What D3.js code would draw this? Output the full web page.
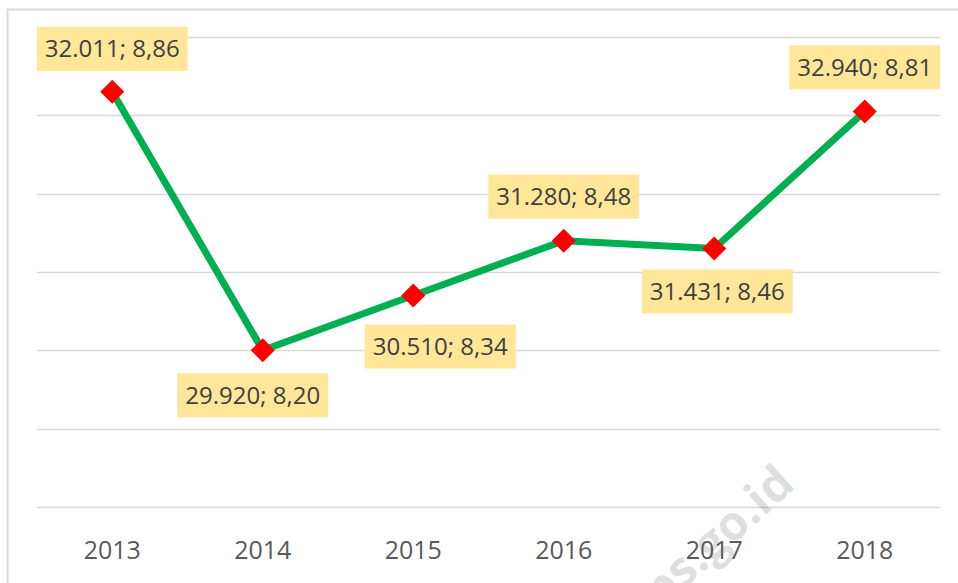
<!DOCTYPE html>
<html>
<head>
<meta charset="utf-8">
<script src="https://cdn.jsdelivr.net/npm/d3@7"></script>
<style>
  html, body { margin: 0; padding: 0; background: #fff; }
  svg { display: block; font-family: "Open Sans", "Noto Sans", sans-serif; }
</style>
</head>
<body>
<svg id="chart" width="958" height="583"></svg>
<script>
// ---- data ----
const years = ["2013", "2014", "2015", "2016", "2017", "2018"];
const firstValues = [32011, 29920, 30510, 31280, 31431, 32940];
const secondValues = [8.86, 8.20, 8.34, 8.48, 8.46, 8.81];
const gridTicks = [7.8, 8.0, 8.2, 8.4, 8.6, 8.8, 9.0];

// ---- layout (label box centre offsets from each point) ----
const labelDx = [0, -10, 27, 0, 3, 0];
const labelDy = [-43, 45, 51, -44, 43, -44];

const svg = d3.select("#chart");
const W = 958, H = 583;
const plot = { left: 37, right: 940, top: 37, bottom: 507 };

const idLocale = d3.formatLocale({ decimal: ",", thousands: ".", grouping: [3], currency: ["Rp", ""] });
const fmtThousands = idLocale.format(",d");
const fmtDec = idLocale.format(".2f");

// outer border (top & left visible)
svg.append("rect")
  .attr("x", 7.5).attr("y", 9.5)
  .attr("width", W + 20).attr("height", H + 20)
  .attr("fill", "none").attr("stroke", "#d9d9d9").attr("stroke-width", 2);

const x = d3.scaleBand().domain(years).range([plot.left, plot.right]);
const y = d3.scaleLinear().domain([7.8, 9.0]).range([plot.bottom, plot.top]);

// gridlines
svg.append("g").selectAll("line")
  .data(gridTicks).join("line")
  .attr("x1", plot.left).attr("x2", plot.right)
  .attr("y1", d => Math.round(y(d)) + 0.5).attr("y2", d => Math.round(y(d)) + 0.5)
  .attr("stroke", "#d9d9d9").attr("stroke-width", 1.3);

// watermark
svg.append("text")
  .attr("transform", "translate(797,487) rotate(-42)")
  .attr("text-anchor", "end")
  .attr("font-size", 48).attr("font-weight", "bold")
  .attr("fill", "#000").attr("fill-opacity", 0.13)
  .text("bps.go.id");

// x axis labels
const xAxis = d3.axisBottom(x).tickSize(0).tickPadding(0);
const gx = svg.append("g").attr("transform", `translate(0, ${plot.bottom + 52})`).call(xAxis);
gx.select(".domain").remove();
gx.selectAll("text")
  .attr("font-size", 25).attr("fill", "#595959")
  .attr("font-family", "'Open Sans', sans-serif")
  .attr("dy", 0);

const pts = years.map((yr, i) => ({ yr, i, cx: x(yr) + x.bandwidth() / 2, cy: y(secondValues[i]) }));

// line
svg.append("path")
  .datum(pts)
  .attr("d", d3.line().x(d => d.cx).y(d => d.cy))
  .attr("fill", "none").attr("stroke", "#00B050").attr("stroke-width", 7)
  .attr("stroke-linejoin", "round");

// markers
svg.append("g").selectAll("path")
  .data(pts).join("path")
  .attr("transform", d => `translate(${d.cx},${d.cy}) rotate(45)`)
  .attr("d", "M-8.5,-8.5H8.5V8.5H-8.5Z")
  .attr("fill", "#FF0000");

// labels
const lg = svg.append("g").selectAll("g").data(pts).join("g")
  .attr("transform", d => `translate(${d.cx + labelDx[d.i]},${d.cy + labelDy[d.i]})`);
lg.append("text")
  .attr("text-anchor", "middle").attr("dy", "0.36em")
  .attr("font-size", 24).attr("fill", "#404040")
  .text(d => fmtThousands(firstValues[d.i]) + "; " + fmtDec(secondValues[d.i]));
lg.each(function () {
  const g = d3.select(this);
  const bb = g.select("text").node().getBBox();
  const w = bb.width + 16, h = 44;
  g.insert("rect", "text")
    .attr("x", -w / 2).attr("y", -h / 2).attr("width", w).attr("height", h)
    .attr("fill", "#FFE699");
});
</script>
</body>
</html>
